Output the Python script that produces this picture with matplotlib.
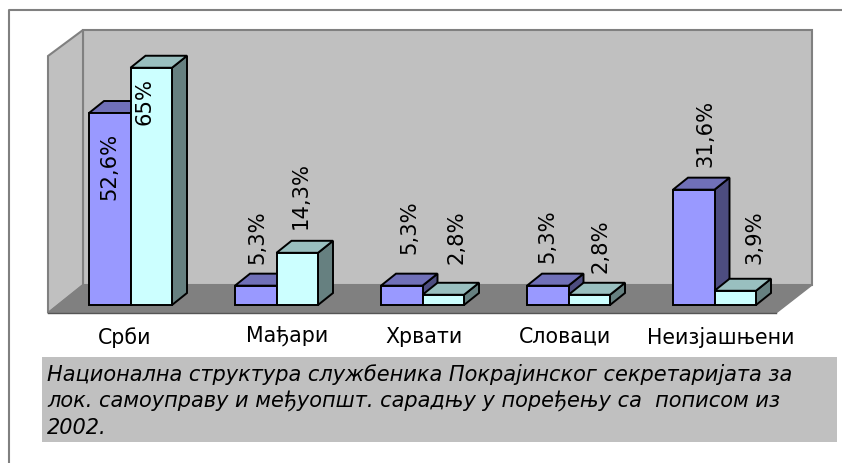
import matplotlib
matplotlib.use("Agg")
import matplotlib.pyplot as plt
from matplotlib.patches import Polygon, Rectangle

categories = ["Срби", "Мађари", "Хрвати", "Словаци", "Неизјашњени"]
series_a = [52.6, 5.3, 5.3, 5.3, 31.6]
series_b = [65, 14.3, 2.8, 2.8, 3.9]
labels_a = ["52,6%", "5,3%", "5,3%", "5,3%", "31,6%"]
labels_b = ["65%", "14,3%", "2,8%", "2,8%", "3,9%"]
caption_lines = ["Национална структура службеника Покрајинског секретаријата за",
                 "лок. самоуправу и међуопшт. сарадњу у поређењу са  пописом из",
                 "2002."]

W, H = 842, 463
plt.rcParams["font.family"] = "DejaVu Sans"
fig = plt.figure(figsize=(W / 100, H / 100), dpi=100, facecolor="white")
bg = fig.add_axes([0, 0, 1, 1])
bg.set_xlim(0, W)
bg.set_ylim(H, 0)
bg.axis("off")

# frame (open on the right and at the bottom)
bg.plot([8.5, 8.5, 842], [463, 10, 10], color="#808080", lw=1.5)

# walls / floor
bg.add_patch(Polygon([(83, 30), (812, 30), (812, 285), (83, 285)], fc="#C0C0C0", ec="#808080", lw=1.5))
bg.add_patch(Polygon([(48, 56), (83, 30), (83, 285), (48, 313)], fc="#C0C0C0", ec="#808080", lw=1.5))
bg.add_patch(Polygon([(48, 313), (83, 285), (812, 285), (776, 313)], fc="#808080", ec="#808080", lw=1))
bg.plot([48, 776], [313, 313], color="#555555", lw=1)

BASE, PXPER = 305.0, 3.65
X0, STEP, BW, DX, DY = 89, 146, 41.5, 15, 12


def bar(x, v, front, top, side, z):
    y = BASE - v * PXPER
    kw = dict(ec="black", lw=1.4, joinstyle="miter", zorder=z)
    bg.add_patch(Polygon([(x + BW, y), (x + BW + DX, y - DY), (x + BW + DX, BASE - DY), (x + BW, BASE)], fc=side, **kw))
    bg.add_patch(Polygon([(x, y), (x + DX, y - DY), (x + BW + DX, y - DY), (x + BW, y)], fc=top, **kw))
    bg.add_patch(Rectangle((x, y), BW, BASE - y, fc=front, **kw))


# label placement (pixels): text start (bottom) and centre line of the rotated labels
lab_a_y = [200, 264, 254, 263, 167]
lab_b_y = [125, 229, 264, 273, 264]
lab_a_x = [109, 257, 409, 547, 705]
lab_b_x = [145, 301, 456, 601, 754]
for i, (a, b) in enumerate(zip(series_a, series_b)):
    x = X0 + STEP * i
    bar(x, a, "#9999FF", "#7070B8", "#4D4D80", 3)
    bar(x + BW, b, "#CCFFFF", "#99BFBF", "#668080", 4)
    bg.text(lab_a_x[i], lab_a_y[i], labels_a[i], rotation=90, ha="center", va="bottom", fontsize=15.2, color="black", zorder=6)
    bg.text(lab_b_x[i], lab_b_y[i], labels_b[i], rotation=90, ha="center", va="bottom", fontsize=15.2, color="black", zorder=6)

cat_x = [125, 287, 424, 565, 721]
cat_y = [338, 336, 337, 337, 338]
for c, x, y in zip(categories, cat_x, cat_y):
    bg.text(x, y, c, ha="center", va="center", fontsize=14.8, color="black")

bg.add_patch(Rectangle((42, 357), 795, 85, fc="#C0C0C0", ec="none"))
for line, y in zip(caption_lines, [381, 407, 434]):
    bg.text(47, y, line, style="italic", fontsize=15, ha="left", va="baseline", color="black")

fig.savefig("out.png", dpi=100)
